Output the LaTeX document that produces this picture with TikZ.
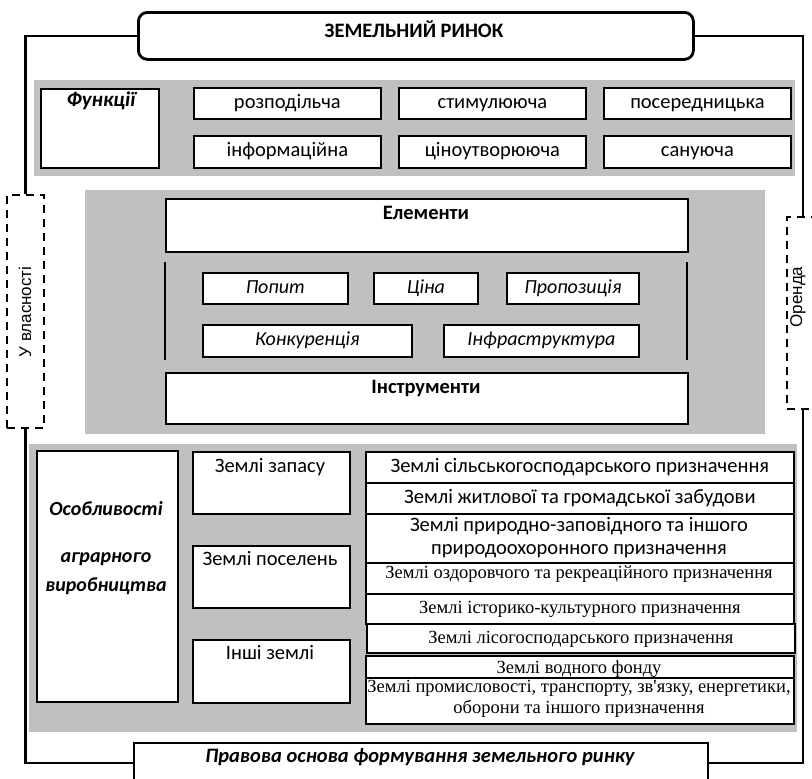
\documentclass[tikz,border=0pt]{standalone}
\usepackage{fontspec}
\setmainfont{Carlito}
\newfontfamily\serifTNR{Liberation Serif}
\newfontfamily\sansArial{Liberation Sans}
\definecolor{panelgray}{RGB}{192,192,192}
\newcommand\rbox[7][bx]{\node[#1,minimum width={(#4-#2)*1pt},minimum height={(#5-#3)*1pt}] (#6) at (#2,#3) {#7};}
\begin{document}
\begin{tikzpicture}[x=1pt,y=-1pt,
  base/.style={font=\fontsize{20.5}{23}\selectfont},
  sl/.style={text height=14pt, text depth=4.5pt},
  bx/.style={draw, line width=1.8pt, fill=white, inner sep=0pt, anchor=north west, rectangle, align=center, base},
  sbx/.style={bx, sl},
  itbx/.style={sbx, font=\itshape\fontsize{20}{23}\selectfont},
  tbx/.style={sbx, font=\serifTNR\fontsize{18.5}{22}\selectfont},
  panel/.style={fill=panelgray, draw=none, anchor=north west, inner sep=0pt},
  dbox/.style={draw, dashed, dash pattern=on 8pt off 6pt, line width=1.9pt, inner sep=0pt, anchor=north west},
  txt/.style={inner sep=0pt, base, sl},
  mtxt/.style={inner sep=0pt, align=center},
  bfont/.style={font=\bfseries\fontsize{20.5}{23}\selectfont},
  bifont/.style={font=\bfseries\itshape\fontsize{20.5}{23}\selectfont},
  tfont/.style={font=\serifTNR\fontsize{18.5}{21}\selectfont},
  conn/.style={draw, line width=2.2pt},
  sidetxt/.style={inner sep=0pt, font=\sansArial\fontsize{17}{20}\selectfont, rotate=90}
]
\useasboundingbox (0,0) rectangle (812,779);
\clip (0,0) rectangle (812,779);
\fill[white] (0,0) rectangle (812,779);

% panels
\rbox[panel]{34}{80}{795}{176}{pA}{}
\rbox[panel]{85}{190}{765}{434}{pB}{}
\rbox[panel]{29}{444}{797}{732}{pC}{}

% title
\node[draw, line width=2.8pt, rounded corners=9pt, fill=white, anchor=north west, inner sep=0pt,
      minimum width=555pt, minimum height=47pt] (title) at (137,11) {};
\node[txt, bfont] (titlet) at (414,33) {ЗЕМЕЛЬНИЙ РИНОК};

% functions
\rbox{40}{88}{158}{167}{fun}{}
\node[txt, font=\bfseries\itshape\fontsize{21}{23}\selectfont] (funt) at (101,102) {Функції};
\rbox[sbx]{193}{87}{380}{118}{f1}{розподільча}
\rbox[sbx]{398}{87}{585}{118}{f2}{стимулююча}
\rbox[sbx]{603}{87}{790}{118}{f3}{посередницька}
\rbox[sbx]{193}{135}{380}{167}{f4}{інформаційна}
\rbox[sbx]{398}{135}{585}{167}{f5}{ціноутворююча}
\rbox[sbx]{603}{135}{790}{167}{f6}{сануюча}

% elements
\rbox{165}{198}{687}{251}{el}{}
\node[txt, bfont] (elt) at (426,215) {Елементи};
\draw[line width=1.8pt] (165,262) -- (165,360);
\draw[line width=1.8pt] (687,262) -- (687,360);
\rbox[itbx]{202}{272}{347}{303}{e1}{Попит}
\rbox[itbx]{373}{272}{477}{303}{e2}{Ціна}
\rbox[itbx]{506}{272}{638}{303}{e3}{Пропозиція}
\rbox[itbx]{202}{324}{411}{356}{e4}{Конкуренція}
\rbox[itbx]{443}{324}{638}{356}{e5}{Інфраструктура}
\rbox{165}{372}{687}{423}{ins}{}
\node[txt, bfont] (inst) at (426,389) {Інструменти};

% features
\rbox{36}{450}{177}{701}{osob}{}
\node[txt, font=\bfseries\itshape\fontsize{20}{24}\selectfont] (osob1) at (106,511) {Особливості};
\node[txt, font=\bfseries\itshape\fontsize{20}{24}\selectfont] (osob2) at (106,558) {аграрного};
\node[txt, font=\bfseries\itshape\fontsize{20}{24}\selectfont] (osob3) at (106,587) {виробництва};

\rbox{192}{451}{349}{513}{z1}{}
\node[txt] (z1t) at (270,468) {Землі запасу};
\rbox{192}{545}{349}{607}{z2}{}
\node[txt] (z2t) at (270,561) {Землі поселень};
\rbox{192}{639}{349}{702}{z3}{}
\node[txt] (z3t) at (270,655) {Інші землі};

\rbox[sbx]{365}{451}{793}{482}{r1}{Землі сільськогосподарського призначення}
\rbox[sbx]{365}{482}{793}{513}{r2}{Землі житлової та громадської забудови}
\rbox{365}{513}{793}{562}{r3}{}
\node[mtxt, font=\fontsize{20.5}{23}\selectfont] (r3t) at (579,538) {Землі природно-заповідного та іншого\\природоохоронного призначення};
\rbox[tbx]{365}{562}{793}{593}{r4}{}
\node[txt, tfont] (r4t) at (579,574) {Землі оздоровчого та рекреаційного призначення};
\rbox[tbx]{365}{593}{793}{623}{r5}{Землі історико-культурного призначення}
\rbox[tbx]{366}{623}{794}{652}{r6}{Землі лісогосподарського призначення}
\rbox[tbx]{365}{655}{793}{677}{r7}{}
\node[txt, tfont] (r7t) at (579,669) {Землі водного фонду};
\rbox{365}{677}{793}{723}{r8}{}
\node[mtxt, tfont] (r8t) at (579,699) {Землі промисловості, транспорту, зв\textquotesingle язку, енергетики,\\оборони та іншого призначення};

% law
\rbox{133}{742}{707}{782}{law}{}
\node[txt, bifont] (lawt) at (420,758) {Правова основа формування земельного ринку};

% side boxes
\node[dbox, minimum width=37pt, minimum height=233pt] (own) at (6,194) {};
\node[sidetxt] (ownt) at (25,312) {У власності};
\node[dbox, minimum width=32pt, minimum height=192pt] (rent) at (786,216) {};
\node[sidetxt] (rentt) at (798,297) {Оренда};

% connectors
\draw[conn] (title.west) -| (own.north);
\draw[conn] (own.south) |- (law.west);
\draw[conn] (title.east) -| (rent.north);
\draw[conn] (rent.south) |- (law.east);
\end{tikzpicture}
\end{document}
